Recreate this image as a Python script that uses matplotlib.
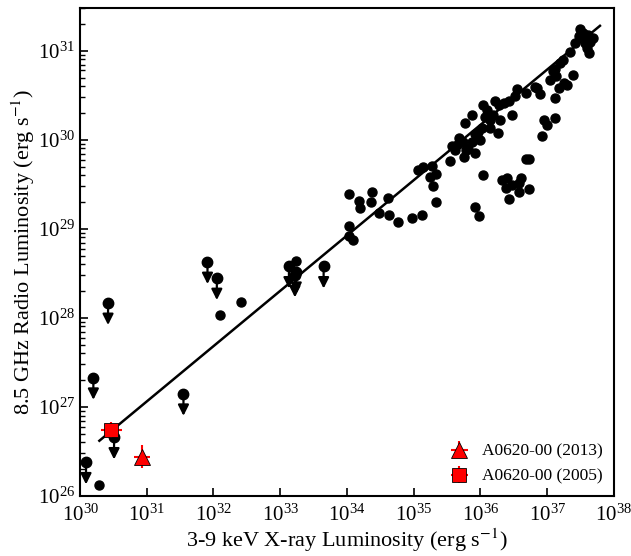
import numpy as np
import matplotlib
matplotlib.use('Agg')
import matplotlib.pyplot as plt

plt.rcParams['font.family'] = ['Liberation Serif', 'DejaVu Serif']
plt.rcParams['mathtext.fontset'] = 'stix'

# log10 luminosities
det_lx = [30.28, 32.10, 32.41, 33.24,
          34.03, 34.18, 34.19, 34.38, 34.36, 34.62, 34.48, 34.63, 34.77, 34.97,
          35.13, 35.33, 34.03, 34.03, 34.09, 35.07, 35.14, 35.28, 35.33, 35.24,
          35.29, 35.55, 35.76, 36.04, 35.92, 35.98, 36.68, 36.73,
          36.32, 36.40, 36.38, 36.47, 36.60, 36.58, 36.58, 36.73, 36.43,
          35.57, 35.68, 35.74, 35.78, 35.87, 35.92, 35.97, 36.02, 36.00, 35.77,
          35.87, 36.04, 36.10, 36.07, 36.14, 36.19, 36.22, 36.29, 36.28, 36.35,
          36.43, 36.52, 36.54, 36.47, 36.14, 36.27, 35.92, 35.82, 35.62, 35.66,
          36.68, 36.84, 36.89, 37.04, 37.12, 36.95, 36.99, 37.12, 36.92,
          37.49, 37.54, 37.61, 37.69, 37.64, 37.57, 37.47, 37.42, 37.59, 37.62,
          37.34, 37.23, 37.19, 37.12, 37.09, 37.13, 37.38, 37.25, 37.30, 37.17,
          36.82]
det_ly = [26.12, 28.03, 28.18, 28.64,
          29.39, 29.31, 29.23, 29.41, 29.30, 29.35, 29.18, 29.16, 29.08, 29.12,
          29.16, 29.30, 29.03, 28.92, 28.88, 29.66, 29.69, 29.71, 29.62, 29.58,
          29.48, 29.76, 29.81, 29.61, 29.24, 29.14, 29.78, 29.78,
          29.55, 29.57, 29.46, 29.49, 29.57, 29.51, 29.41, 29.45, 29.33,
          29.93, 30.02, 29.98, 29.89, 29.98, 30.06, 30.09, 30.13, 30.00, 30.19,
          30.28, 30.39, 30.34, 30.26, 30.22, 30.28, 30.43, 30.22, 30.39, 30.41,
          30.44, 30.49, 30.57, 30.28, 30.13, 30.08, 29.85, 29.90, 29.88, 29.95,
          30.52, 30.58, 30.51, 30.67, 30.47, 30.22, 30.17, 30.24, 30.04,
          31.24, 31.20, 31.18, 31.14, 31.10, 31.09, 31.16, 31.09, 31.03, 30.97,
          30.99, 30.90, 30.86, 30.80, 30.77, 30.72, 30.73, 30.64, 30.62, 30.58,
          30.59]

# upper limits
ul_lx = [30.09, 30.20, 30.42, 30.51, 31.55, 31.91, 32.05, 33.13, 33.24, 33.22, 33.65]
ul_ly = [26.38, 27.33, 28.17, 26.66, 27.15, 28.63, 28.45, 28.58, 28.52, 28.48, 28.58]

# fitted relation (end points)
fit_lx = [30.29, 37.79]
fit_ly = [26.62, 31.28]

# A0620-00: log L, errors in dex (x, y)
a13_lx, a13_ly, a13_dx, a13_dy = 30.93, 26.44, 0.12, 0.13
a05_lx, a05_ly, a05_dx, a05_dy = 30.47, 26.74, 0.16, 0.09


def logerr(v, d):
    return [[v - v * 10**-d], [v * 10**d - v]]


fig = plt.figure(figsize=(6.31, 5.56), dpi=100)
ax = fig.add_axes([0.1268, 0.108, 0.8462, 0.8776])

ax.plot(10**np.array(fit_lx), 10**np.array(fit_ly), 'k-', lw=1.8, zorder=2)

ax.plot(10**np.array(det_lx), 10**np.array(det_ly), 'o', color='k', ms=6.5,
        ls='none', zorder=3)

for lx, ly in zip(ul_lx, ul_ly):
    x, y = 10**lx, 10**ly
    ax.annotate('', xy=(x, y * 10**-0.25), xytext=(x, y),
                arrowprops=dict(arrowstyle='-|>', color='k', lw=1.6,
                                mutation_scale=16, shrinkA=0, shrinkB=0),
                zorder=3)
    ax.plot(x, y, 'o', color='k', ms=7.5, zorder=4)

x13, y13 = 10**a13_lx, 10**a13_ly
ax.errorbar(x13, y13, xerr=logerr(x13, a13_dx), yerr=logerr(y13, a13_dy),
            fmt='^', color='red', mec='k', mew=0.6, ms=11, ecolor='red',
            elinewidth=1.5, capsize=0, zorder=5, label='A0620-00 (2013)')
x05, y05 = 10**a05_lx, 10**a05_ly
ax.errorbar(x05, y05, xerr=logerr(x05, a05_dx), yerr=logerr(y05, a05_dy),
            fmt='s', color='red', mec='k', mew=0.6, ms=10, ecolor='red',
            elinewidth=1.5, capsize=0, zorder=5, label='A0620-00 (2005)')

ax.set_xscale('log')
ax.set_yscale('log')
ax.set_xlim(1e30, 1e38)
ax.set_ylim(1e26, 10**31.48)
ax.set_xticks([10.0**k for k in range(30, 39)])
ax.set_yticks([10.0**k for k in range(26, 32)])

ax.tick_params(which='both', direction='in', top=False, right=False,
               labelsize=15)
ax.tick_params(axis='x', which='major', pad=6)
ax.tick_params(which='major', length=6, width=1.2)
ax.tick_params(which='minor', length=3.5, width=1)
for s in ax.spines.values():
    s.set_linewidth(1.5)

ax.set_xlabel(r'3-9 keV X-ray Luminosity (erg s$^{-1}$)', fontsize=16, labelpad=1)
ax.set_ylabel(r'8.5 GHz Radio Luminosity (erg s$^{-1}$)', fontsize=16, labelpad=0.5)

ax.legend(loc='lower right', frameon=False, fontsize=12.5, handletextpad=0.3,
          borderaxespad=0.25, labelspacing=0.5)

fig.savefig('out.png', dpi=100)
